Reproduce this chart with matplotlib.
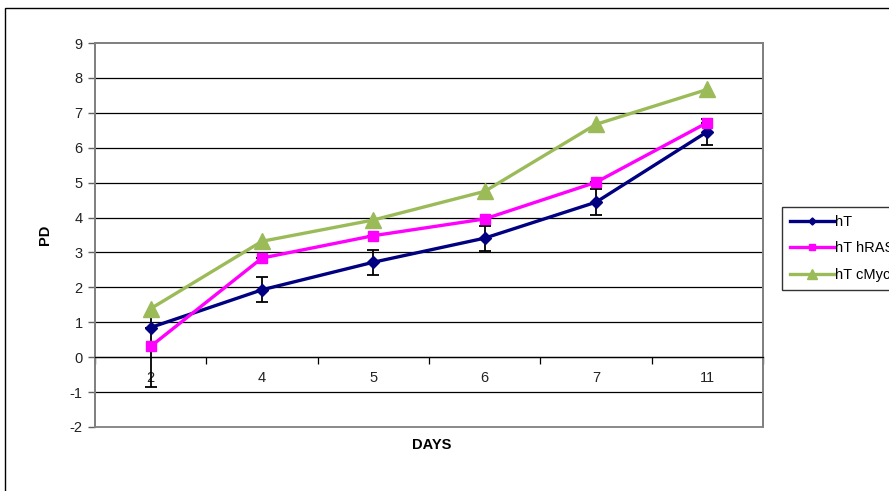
import matplotlib
matplotlib.use("Agg")
from matplotlib import pyplot as plt
from matplotlib.patches import Rectangle
import numpy as np

plt.rcParams['font.family'] = ['Liberation Sans', 'DejaVu Sans']
plt.rcParams['axes.unicode_minus'] = False

# data
days = ["2", "4", "5", "6", "7", "11"]
pd_ht = [0.85, 1.93, 2.72, 3.41, 4.44, 6.46]
pd_ht_err = [0.0, 0.36, 0.36, 0.36, 0.37, 0.37]
pd_hras = [0.31, 2.84, 3.48, 3.96, 5.01, 6.72]
pd_hras_err_lo = [1.15, 0.0, 0.0, 0.0, 0.0, 0.0]
pd_hras_err_hi = [0.9, 0.0, 0.0, 0.0, 0.0, 0.0]
pd_cmyc = [1.39, 3.32, 3.93, 4.75, 6.67, 7.67]
series_names = ["hT", "hT hRAS", "hT cMyc"]

W, H = 889, 491
fig = plt.figure(figsize=(W / 100, H / 100), dpi=100)
ax = fig.add_axes([95 / W, 64 / H, (763 - 95) / W, (427 - 43) / H])

x = np.arange(len(days))

# error bars under the lines/markers
ax.errorbar(x, pd_ht, yerr=pd_ht_err, fmt='none', ecolor='black', elinewidth=1.3,
            capsize=4, capthick=1.3, zorder=3)
ax.errorbar(x, pd_hras, yerr=[pd_hras_err_lo, pd_hras_err_hi], fmt='none', ecolor='black',
            elinewidth=1.3, capsize=4, capthick=1.3, zorder=3)

ax.plot(x, pd_ht, color='#000080', lw=2.4, marker='D', ms=6, zorder=4, label=series_names[0])
ax.plot(x, pd_hras, color='#FF00FF', lw=2.4, marker='s', ms=7.5, zorder=5, label=series_names[1])
ax.plot(x, pd_cmyc, color='#9BBB59', lw=2.4, marker='^', ms=12, zorder=6, label=series_names[2])

ax.set_xlim(-0.5, len(days) - 0.5)
ax.set_ylim(-2, 9)
ax.set_yticks(np.arange(-2, 10, 1))
for v in range(-1, 9):
    ax.axhline(v, color='black', lw=0.9, zorder=1)

# frame of the plot area
for s in ['top', 'right', 'left']:
    ax.spines[s].set_color('#808080')
    ax.spines[s].set_linewidth(1.3)
ax.add_patch(Rectangle((0, 0), 1, 1, transform=ax.transAxes, fill=False,
                       edgecolor='#808080', lw=1.3, zorder=2, clip_on=False))

# category axis crossing at zero
ax.spines['bottom'].set_position(('data', 0))
ax.spines['bottom'].set_color('black')
ax.spines['bottom'].set_linewidth(0.9)
ax.set_xticks(x)
ax.set_xticklabels(days)
ax.set_xticks(np.arange(-0.5, len(days), 1), minor=True)
ax.tick_params(axis='x', which='major', length=0, pad=10, labelsize=10.5, colors='#222222')
ax.tick_params(axis='x', which='minor', length=5, direction='out', color='black', width=0.9)
ax.tick_params(axis='y', length=5, direction='out', color='#606060', width=1, pad=4,
               labelsize=10.5, labelcolor='#222222')

fig.text(45 / W, 1 - 235 / H, "PD", rotation=90, ha='center', va='center',
         fontsize=10.5, fontweight='bold')
fig.text(432 / W, 1 - 445 / H, "DAYS", ha='center', va='center',
         fontsize=10.5, fontweight='bold')

# legend runs past the right edge, as in the original
leg = fig.legend(loc='upper left', bbox_to_anchor=(782 / W, 1 - 207 / H), fontsize=10.5,
                 frameon=True, fancybox=False, edgecolor='black', handlelength=3.0,
                 handletextpad=0.1, labelspacing=0.85, borderpad=0.55, borderaxespad=0,
                 markerscale=0.6)
leg.get_frame().set_linewidth(1)

# outer chart border
fig.patches.append(Rectangle((5 / W, -0.1), 2, 1.1 - 8 / H, transform=fig.transFigure,
                             fill=False, edgecolor='black', lw=1))

fig.savefig("out.png", dpi=100)
